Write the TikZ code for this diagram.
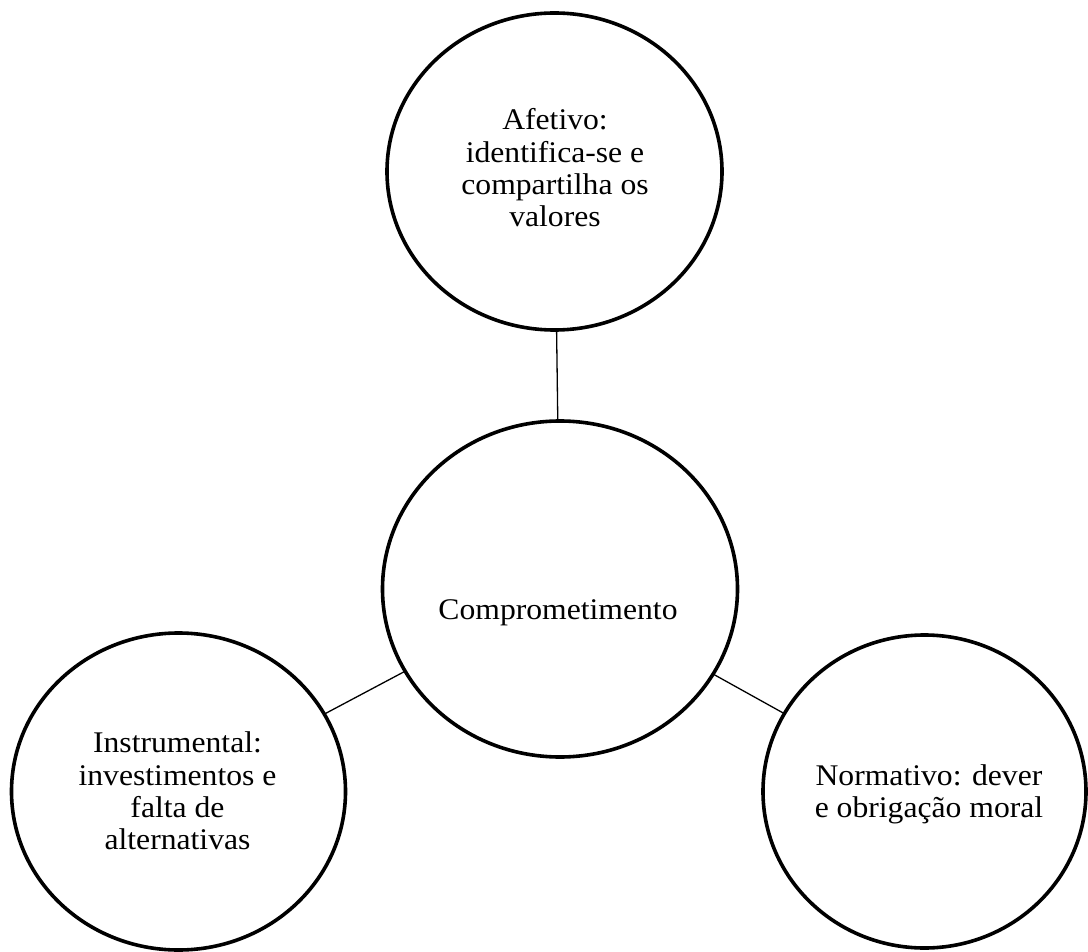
\documentclass[tikz,border=0pt]{standalone}
\usepackage{fontspec}
\setmainfont{Liberation Serif}[FakeStretch=1.055]
\usetikzlibrary{shapes.geometric}
\begin{document}
\begin{tikzpicture}[x=1pt,y=-1pt,
  bubble/.style={draw=black,line width=3.6pt,ellipse,inner sep=0pt,outer sep=0pt},
  link/.style={draw=black,line width=1.3pt},
  lbl/.style={align=center,inner sep=0pt,font=\fontsize{30}{32.3}\selectfont,text=black}]
\useasboundingbox (0,0) rectangle (1088,952);
\node[bubble,minimum width=335pt,minimum height=317pt] (top) at (554.5,171.5) {};
\node[bubble,minimum width=355pt,minimum height=336pt] (mid) at (560,589) {};
\node[bubble,minimum width=334pt,minimum height=317pt] (left) at (178.5,791.5) {};
\node[bubble,minimum width=323pt,minimum height=313pt] (right) at (924.5,791.5) {};
\draw[link] (top) -- (mid);
\draw[link] (mid) -- (left);
\draw[link] (mid) -- (right);
\node[lbl] (ttop) at (555,168) {Afetivo:\\identifica-se e\\compartilha os\\valores};
\node[lbl] (tmid) at (558,613) {Comprometimento};
\node[lbl] (tleft) at (177.5,791) {Instrumental:\\investimentos e\\falta de\\alternativas};
\node[lbl] (tright) at (929,794) {Normativo: dever\\e obrigação moral};
\end{tikzpicture}
\end{document}
